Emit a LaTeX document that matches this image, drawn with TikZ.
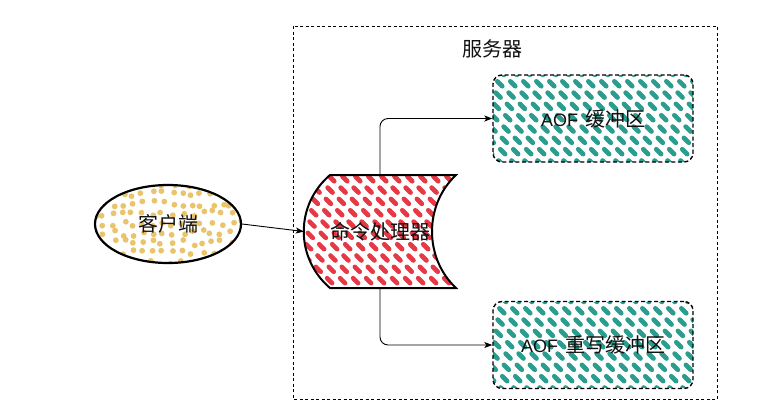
\documentclass[tikz,border=0pt]{standalone}
\usepackage{fontspec}
\setmainfont{Noto Sans CJK SC}
\newfontfamily\latinfont{Liberation Sans}
\usetikzlibrary{shapes.geometric,arrows.meta}
\definecolor{hatchred}{HTML}{E63946}
\definecolor{hatchteal}{HTML}{2A9D8F}
\definecolor{dotyellow}{HTML}{E9C46A}
\definecolor{txt}{HTML}{111111}
\newcommand{\aoftxt}{{\latinfont\fontsize{18}{20}\selectfont AOF}\hspace{7pt}}
\begin{document}
\begin{tikzpicture}[x=1pt,y=-1pt,
  lbl/.style={font=\fontsize{20}{22}\selectfont, text=txt},
  conn/.style={line width=0.9pt, -{Stealth[length=8pt,width=6pt,inset=2pt]}},
  hatchline/.style={line width=4.6pt, line cap=round, dash pattern=on 7pt off 9pt},
  bufbox/.style={draw, line width=1.4pt, dash pattern=on 4pt off 2.5pt, rounded corners=9pt, minimum width=200pt, minimum height=87pt, lbl},
  outerbox/.style={draw, line width=0.8pt, dash pattern=on 3pt off 2.5pt}]
\useasboundingbox (0,0) rectangle (763,416);
\fill[white] (0,0) rectangle (763,416);
% outer server frame
\draw[outerbox] (293,26) rectangle (717,399);
\node[lbl] (srv) at (492,49) {服务器};
% client dots
\begin{scope}
  \clip (168,224) ellipse [x radius=72pt, y radius=38pt];
  \pgfmathsetseed{7}
  \foreach \i in {0,...,15}{
    \foreach \j in {0,...,8}{
      \pgfmathsetmacro\dx{94+\i*9.8+3*rand}
      \pgfmathsetmacro\dy{184+\j*9.8+3*rand}
      \fill[dotyellow] (\dx,\dy) circle (2.9pt);
    }
  }
\end{scope}
\node[ellipse, draw, line width=2.2pt, minimum width=146pt, minimum height=78pt, lbl] (client) at (168,224) {客户端};
% processor hatch
\begin{scope}
  \clip (330,175) -- (456,175) .. controls (424,205) and (424,258) .. (456,288) -- (330,288) .. controls (295,258) and (295,205) .. (330,175) -- cycle;
  \foreach \c in {10,23,...,290}{
    \draw[hatchline, hatchred] (\c+165,165) -- ++(135,135);
  }
\end{scope}
\draw[line width=2pt, line join=miter] (330,175) -- (456,175) .. controls (424,205) and (424,258) .. (456,288) -- (330,288) .. controls (295,258) and (295,205) .. (330,175) -- cycle;
\node[lbl, minimum width=152pt, minimum height=113pt, inner sep=0pt] (proc) at (380,231.5) {命令处理器};
% buffer hatches
\begin{scope}
  \clip[rounded corners=9pt] (493,75) rectangle (693,162);
  \foreach \c in {325,338,...,625}{
    \draw[hatchline, hatchteal] (\c+70,70) -- ++(100,100);
  }
\end{scope}
\begin{scope}
  \clip[rounded corners=9pt] (493,302) rectangle (693,388);
  \foreach \c in {100,113,...,400}{
    \draw[hatchline, hatchteal] (\c+297,297) -- ++(100,100);
  }
\end{scope}
\node[bufbox] (aof) at (593,118.5) {\aoftxt 缓冲区};
\node[bufbox] (aofrw) at (593,345) {\aoftxt 重写缓冲区};
% connectors
\draw[conn] (client.east) -- (proc.west);
\draw[conn, rounded corners=8pt] (proc.north) |- (aof.west);
\draw[conn, rounded corners=8pt] (proc.south) |- (aofrw.west);
\end{tikzpicture}
\end{document}
